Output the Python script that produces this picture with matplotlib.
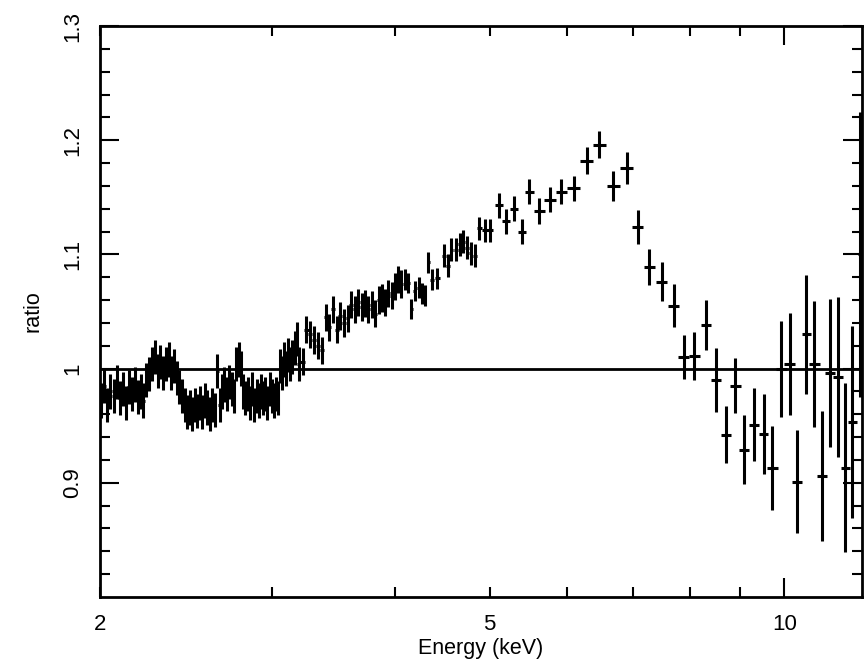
import numpy as np
import matplotlib
matplotlib.use('Agg')
import matplotlib.pyplot as plt
from matplotlib.ticker import FixedLocator, FixedFormatter

plt.rcParams['font.family'] = ['Liberation Sans', 'DejaVu Sans']

# --- dense low-energy bins (2 - 3.2 keV) ---
lo_energy = [2.005, 2.020, 2.035, 2.050, 2.065, 2.080, 2.095, 2.110, 2.125, 2.140,
             2.155, 2.170, 2.185, 2.200, 2.215, 2.230, 2.245, 2.260, 2.275, 2.290,
             2.305, 2.320, 2.335, 2.350, 2.365, 2.380, 2.395, 2.410, 2.425, 2.440,
             2.455, 2.470, 2.485, 2.500, 2.515, 2.530, 2.545, 2.560, 2.575, 2.590,
             2.605, 2.620, 2.635, 2.650, 2.665, 2.680, 2.695, 2.710, 2.725, 2.740,
             2.755, 2.770, 2.785, 2.800, 2.815, 2.830, 2.845, 2.860, 2.875, 2.890,
             2.905, 2.920, 2.935, 2.950, 2.965, 2.980, 2.995, 3.010, 3.025, 3.040,
             3.055, 3.070, 3.085, 3.100, 3.115, 3.130, 3.145, 3.160, 3.175, 3.190]
lo_ratio = [0.972, 0.985, 0.968, 0.980, 0.976, 0.988, 0.974, 0.982, 0.970, 0.984,
            0.978, 0.986, 0.975, 0.980, 0.972, 0.990, 0.995, 1.004, 1.010, 0.998,
            1.006, 0.996, 1.004, 1.008, 0.996, 1.002, 0.992, 0.984, 0.976, 0.968,
            0.962, 0.966, 0.960, 0.968, 0.963, 0.970, 0.962, 0.972, 0.966, 0.960,
            0.968, 0.964, 0.998, 0.968, 0.980, 0.986, 0.978, 0.988, 0.982, 0.976,
            1.004, 1.008, 1.000, 0.980, 0.974, 0.978, 0.970, 0.982, 0.968, 0.976,
            0.972, 0.980, 0.974, 0.978, 0.970, 0.982, 0.976, 0.972, 0.978, 0.974,
            1.002, 0.996, 1.008, 1.000, 1.012, 1.004, 1.010, 1.018, 1.026, 1.004]
lo_xerr = 0.0085
lo_yerr = 0.015

# --- medium bins (3.2 - 4.1 keV) ---
md_energy = [3.220, 3.250, 3.280, 3.310, 3.340, 3.370, 3.400, 3.430, 3.460, 3.490,
             3.520, 3.550, 3.580, 3.610, 3.640, 3.670, 3.700, 3.730, 3.760, 3.790,
             3.820, 3.850, 3.880, 3.910, 3.940, 3.970, 4.000, 4.030, 4.060]
md_ratio = [1.006, 1.034, 1.030, 1.025, 1.020, 1.016, 1.045, 1.036, 1.052, 1.034,
            1.046, 1.040, 1.044, 1.056, 1.052, 1.058, 1.054, 1.057, 1.052, 1.056,
            1.048, 1.060, 1.062, 1.058, 1.066, 1.064, 1.072, 1.078, 1.074]
md_xerr = 0.016
md_yerr = 0.012

# --- wide bins (4.1 - 12 keV) ---
hi_energy = [4.10, 4.13, 4.16, 4.19, 4.23, 4.26, 4.29, 4.33, 4.37, 4.42,
             4.49, 4.53, 4.57, 4.62, 4.66, 4.70, 4.74, 4.78, 4.83, 4.88,
             4.94, 5.00, 5.11, 5.20, 5.29, 5.39, 5.49, 5.62, 5.76, 5.92,
             6.09, 6.28, 6.47, 6.69, 6.90, 7.08, 7.28, 7.49, 7.71, 7.89,
             8.09, 8.31, 8.52, 8.71, 8.91, 9.10, 9.32, 9.52, 9.72, 9.93,
             10.12, 10.31, 10.53, 10.73, 10.93, 11.14, 11.35, 11.54, 11.73, 11.95]
hi_ratio = [1.078, 1.075, 1.052, 1.068, 1.071, 1.066, 1.064, 1.093, 1.078, 1.079,
            1.099, 1.090, 1.104, 1.104, 1.109, 1.111, 1.106, 1.101, 1.099, 1.123,
            1.121, 1.121, 1.143, 1.129, 1.140, 1.120, 1.155, 1.138, 1.148, 1.155,
            1.158, 1.182, 1.196, 1.160, 1.176, 1.124, 1.089, 1.076, 1.055, 1.010,
            1.011, 1.038, 0.990, 0.942, 0.985, 0.929, 0.951, 0.943, 0.913, 1.000,
            1.004, 0.901, 1.030, 1.004, 0.906, 0.996, 0.993, 0.913, 0.953, 1.100]
hi_yerr = [0.009, 0.009, 0.009, 0.009, 0.009, 0.009, 0.009, 0.009, 0.009, 0.009,
           0.010, 0.010, 0.010, 0.010, 0.010, 0.010, 0.010, 0.010, 0.010, 0.010,
           0.010, 0.010, 0.011, 0.011, 0.011, 0.011, 0.011, 0.011, 0.011, 0.011,
           0.011, 0.012, 0.012, 0.013, 0.014, 0.015, 0.016, 0.017, 0.019, 0.019,
           0.021, 0.022, 0.028, 0.025, 0.024, 0.030, 0.032, 0.035, 0.037, 0.042,
           0.045, 0.045, 0.052, 0.055, 0.057, 0.065, 0.070, 0.074, 0.084, 0.125]
hi_xerr = [0.015, 0.015, 0.015, 0.015, 0.015, 0.015, 0.015, 0.02, 0.02, 0.025,
           0.025, 0.02, 0.02, 0.02, 0.02, 0.02, 0.02, 0.02, 0.025, 0.03,
           0.03, 0.04, 0.05, 0.05, 0.05, 0.05, 0.06, 0.07, 0.08, 0.08,
           0.09, 0.09, 0.10, 0.10, 0.10, 0.09, 0.09, 0.10, 0.10, 0.10,
           0.10, 0.10, 0.10, 0.10, 0.11, 0.11, 0.11, 0.11, 0.12, 0.12,
           0.12, 0.12, 0.12, 0.13, 0.13, 0.13, 0.13, 0.12, 0.12, 0.06]

fig = plt.figure(figsize=(8.65, 6.62), dpi=100)
ax = fig.add_axes([0.1156, 0.0982, 0.8809, 0.8625])

ebar = dict(fmt='none', ecolor='black', elinewidth=2.2, capsize=0)
ax.errorbar(lo_energy, lo_ratio, xerr=lo_xerr, yerr=lo_yerr, **ebar)
ax.errorbar(md_energy, md_ratio, xerr=md_xerr, yerr=md_yerr, **ebar)
ax.errorbar(hi_energy, hi_ratio, xerr=hi_xerr, yerr=hi_yerr, **ebar)
ax.axhline(1.0, color='black', lw=2)

ax.set_xscale('log')
ax.set_xlim(2, 12)
ax.set_ylim(0.8, 1.3)

ax.xaxis.set_major_locator(FixedLocator([2, 5, 10]))
ax.xaxis.set_major_formatter(FixedFormatter(['2', '5', '10']))
ax.xaxis.set_minor_locator(FixedLocator([3, 4, 6, 7, 8, 9]))
ax.xaxis.set_minor_formatter(FixedFormatter([]))
ax.yaxis.set_major_locator(FixedLocator([0.9, 1.0, 1.1, 1.2, 1.3]))
ax.yaxis.set_major_formatter(FixedFormatter(['0.9', '1', '1.1', '1.2', '1.3']))
ax.yaxis.set_minor_locator(FixedLocator(np.arange(0.82, 1.3, 0.02)))

ax.tick_params(which='both', direction='in', top=True, right=True, width=1.5,
               labelsize=16, pad=12)
ax.tick_params(which='major', length=14)
ax.tick_params(which='minor', length=7)
ax.tick_params(axis='x', which='major', length=7)
ax.tick_params(axis='y', labelrotation=90)
for lbl in ax.get_yticklabels():
    lbl.set_va('center')

# only the decade tick is long on the energy axis
t10 = ax.xaxis.get_major_ticks()[2]
t10.tick1line.set_markersize(14)
t10.tick2line.set_markersize(14)

for sp in ax.spines.values():
    sp.set_linewidth(2)

ax.set_xlabel('Energy (keV)', fontsize=15.5, va='center')
ax.xaxis.set_label_coords(0.5, -0.091)
ax.set_ylabel('ratio', fontsize=15.5, va='center')
ax.yaxis.set_label_coords(-0.088, 0.5)

fig.savefig('out.png', dpi=100)
